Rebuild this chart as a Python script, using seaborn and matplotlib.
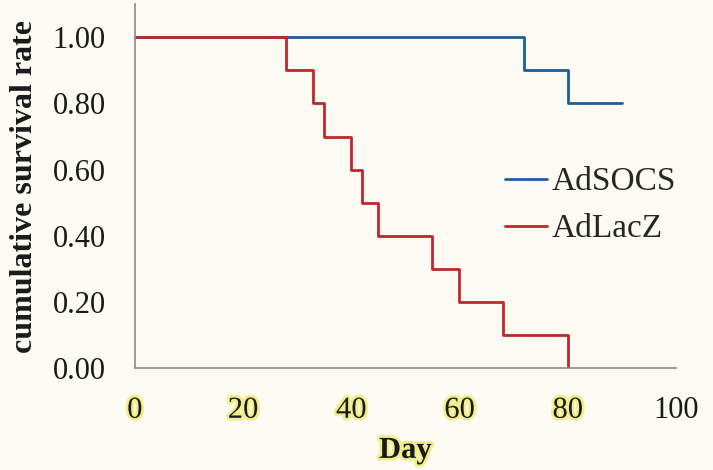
import matplotlib
matplotlib.use("Agg")
import matplotlib.pyplot as plt
import matplotlib.patheffects as pe
import seaborn as sns
import pandas as pd

# ---- data ----
socs_days = [0, 72, 80, 90]
socs_surv = [1.00, 0.90, 0.80, 0.80]
lacz_days = [0, 28, 33, 35, 40, 42, 45, 55, 60, 68, 80]
lacz_surv = [1.00, 0.90, 0.80, 0.70, 0.60, 0.50, 0.40, 0.30, 0.20, 0.10, 0.00]
groups = ["AdSOCS", "AdLacZ"]
colors = ["#1f5c9e", "#c2252b"]
x_ticks = [0, 20, 40, 60, 80, 100]
y_ticks = [0.0, 0.2, 0.4, 0.6, 0.8, 1.0]

df = pd.DataFrame({
    "day": socs_days + lacz_days,
    "surv": socs_surv + lacz_surv,
    "group": [groups[0]] * len(socs_days) + [groups[1]] * len(lacz_days),
})

sns.set_theme(style="white")
plt.rcParams["font.family"] = ["Liberation Serif", "DejaVu Serif"]

bg = "#fcfbf3"
fig = plt.figure(figsize=(7.13, 4.70), dpi=100, facecolor=bg)
ax = fig.add_axes([0.189, 0.217, 0.759, 0.774])
ax.set_facecolor(bg)

sns.lineplot(data=df, x="day", y="surv", hue="group", hue_order=groups,
             palette=colors, drawstyle="steps-post", linewidth=2.0,
             sort=True, estimator=None, ax=ax)

ax.set_xlim(0, 100)
ax.set_ylim(0, 1.1)
ax.set_xticks(x_ticks)
ax.set_yticks(y_ticks)
ax.set_yticklabels([f"{v:.2f}" for v in y_ticks])
ax.tick_params(axis="both", direction="out", width=1, color="#8a8a8a",
               labelsize=22, labelcolor="#1a1a1a")
ax.tick_params(axis="x", length=5, pad=15)
ax.tick_params(axis="y", length=7, pad=14)
for s in ["top", "right"]:
    ax.spines[s].set_visible(False)
for s in ["left", "bottom"]:
    ax.spines[s].set_color("#8a8a8a")
    ax.spines[s].set_linewidth(1.2)

glow = [pe.withStroke(linewidth=4, foreground="#f2ee8c")]
for lab in ax.get_xticklabels():
    if lab.get_text() != "100":
        lab.set_path_effects(glow)

ax.set_xlabel("Day", fontsize=22, fontweight="bold", color="#1a1a1a",
              labelpad=8, path_effects=glow)
ax.set_ylabel("cumulative survival rate", fontsize=23, fontweight="bold",
              color="#1a1a1a", labelpad=10)

leg = ax.legend(loc="upper left", bbox_to_anchor=(0.66, 0.59), frameon=False,
                fontsize=24, handlelength=1.25, handletextpad=0.15,
                labelspacing=0.5, borderaxespad=0)

fig.savefig("out.png", dpi=100, facecolor=bg)
